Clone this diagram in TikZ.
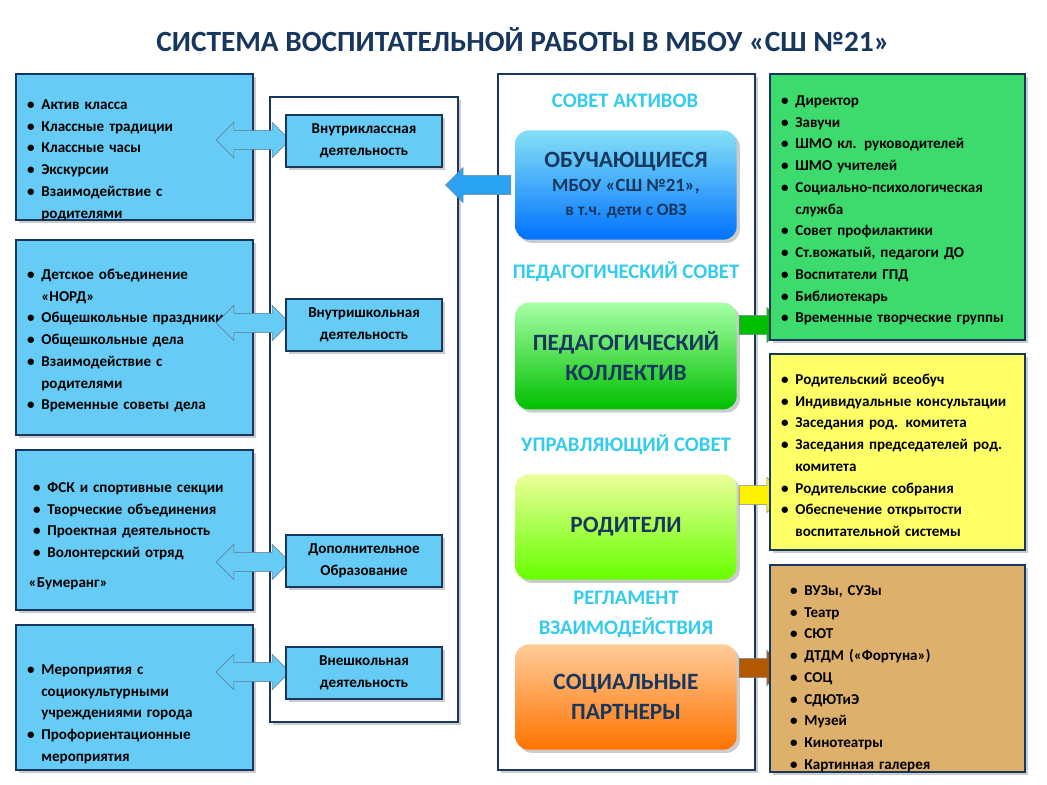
\documentclass[tikz,border=0pt]{standalone}
\usepackage{fontspec}
\setmainfont{Carlito}
\usepackage{enumitem}
\usetikzlibrary{shadows,shapes.arrows}
\definecolor{dblue}{HTML}{17375E}
\definecolor{lblue}{HTML}{66CCF5}
\definecolor{gbox}{HTML}{3DDB6E}
\definecolor{ybox}{HTML}{FFFF66}
\definecolor{tbox}{HTML}{DDB06C}
\definecolor{cyanT}{HTML}{33CCEE}
\newcommand{\blist}[1]{\begin{itemize}[leftmargin=11pt,label=\textbullet,itemsep=0pt,topsep=0pt,parsep=0pt,partopsep=0pt]#1\end{itemize}}
\begin{document}
\begin{tikzpicture}[x=0.75pt,y=-0.75pt,
 every node/.style={font=\bfseries\fontsize{11.3}{16.3}\selectfont},
 lbox/.style={draw=dblue,line width=1.2pt,fill=lblue,drop shadow={opacity=0.4}},
 sbox/.style={draw=dblue,line width=1.2pt,fill=lblue,drop shadow={opacity=0.4},align=center},
 frame/.style={draw=dblue,line width=1.5pt,fill=white,drop shadow={opacity=0.4}},
 rbox/.style={rounded corners=10pt,draw=none,drop shadow={opacity=0.4},align=center,font=\bfseries\fontsize{17.5}{22}\selectfont},
 dar/.style={double arrow,double arrow head extend=6pt,fill=lblue,draw=dblue!70,minimum height=55pt,inner sep=7pt},
 rar/.style={single arrow,single arrow head extend=6pt,draw=dblue!60,inner sep=7pt},
 arc/.style={text=cyanT,font=\bfseries\fontsize{15.5}{16}\selectfont}]
\useasboundingbox (0,0) rectangle (1047,785);
\node[text=dblue,font=\bfseries\fontsize{22}{26}\selectfont] (title) at (523,40) {СИСТЕМА ВОСПИТАТЕЛЬНОЙ РАБОТЫ В МБОУ «СШ №21»};
% frames
\draw[frame] (270,97) rectangle (458,722);
\draw[frame] (498,74) rectangle (755,770);
% left boxes
\draw[lbox] (16,74) rectangle (253,220);
\node[anchor=north west,text width=150pt] (l1) at (22,83) {\blist{\item Актив класса \item Классные традиции \item Классные часы \item Экскурсии \item Взаимодействие с родителями}};
\draw[lbox] (16,240) rectangle (253,435);
\node[anchor=north west,text width=150pt] (l2) at (22,253) {\blist{\item Детское объединение «НОРД» \item Общешкольные праздники \item Общешкольные дела \item Взаимодействие с родителями \item Временные советы дела}};
\draw[lbox] (16,450) rectangle (253,610);
\node[anchor=north west,text width=150pt] (l3) at (28,466) {\blist{\item ФСК и спортивные секции \item Творческие объединения \item Проектная деятельность \item Волонтерский отряд}};
\node[anchor=north west] (l3b) at (24,573) {«Бумеранг»};
\draw[lbox] (16,625) rectangle (253,770);
\node[anchor=north west,text width=150pt] (l4) at (22,648) {\blist{\item Мероприятия с социокультурными учреждениями города \item Профориентационные мероприятия}};
% double arrows
\foreach \y in {140,323,562,672} \node[dar] at (253,\y) {};
% small boxes
\node[sbox,minimum width=117pt,minimum height=39pt] (s1) at (364,141) {Внутриклассная\\деятельность};
\node[sbox,minimum width=117pt,minimum height=39pt] (s2) at (364,325) {Внутришкольная\\деятельность};
\node[sbox,minimum width=117pt,minimum height=39pt] (s3) at (364,561) {Дополнительное\\Образование};
\node[sbox,minimum width=117pt,minimum height=39pt] (s4) at (364,673) {Внешкольная\\деятельность};
% arrows
\node[rar,fill=cyanT!80!blue,shape border rotate=180,minimum height=49pt] (a0) at (483,185) {};
\node[rar,fill=green!75!black,minimum height=34pt] (a1) at (757,325) {};
\node[rar,fill=yellow,minimum height=34pt] (a2) at (757,495) {};
\node[rar,fill=orange!70!black,minimum height=34pt] (a3) at (757,668) {};
% center boxes
\node[rbox,top color=cyanT!60,bottom color=blue!55!cyan,text=dblue,minimum width=166pt,minimum height=82pt] (c1) at (626,185) {ОБУЧАЮЩИЕСЯ\\[-4pt]{\fontsize{14}{17}\selectfont МБОУ «СШ №21»,}\\[-4pt]{\fontsize{13}{16}\selectfont в т.ч. дети с ОВЗ}};
\node[rbox,top color=green!35!white,bottom color=green!75!black,text=dblue,minimum width=166pt,minimum height=80pt] (c2) at (626,356) {ПЕДАГОГИЧЕСКИЙ\\КОЛЛЕКТИВ};
\node[rbox,top color=green!20!yellow!40!white,bottom color=green!60!yellow,text=dblue,minimum width=166pt,minimum height=79pt] (c3) at (626,527) {РОДИТЕЛИ};
\node[rbox,top color=orange!40!white,bottom color=orange!90!red,text=dblue,minimum width=166pt,minimum height=79pt] (c4) at (626,697) {СОЦИАЛЬНЫЕ\\ПАРТНЕРЫ};
\node[arc] (t1) at (625,101) {СОВЕТ АКТИВОВ};
\node[arc] (t2) at (626,272) {ПЕДАГОГИЧЕСКИЙ СОВЕТ};
\node[arc] (t3) at (626,445) {УПРАВЛЯЮЩИЙ СОВЕТ};
\node[arc] (t4) at (626,598) {РЕГЛАМЕНТ};
\node[arc] (t5) at (626,628) {ВЗАИМОДЕЙСТВИЯ};
% right boxes
\draw[lbox,fill=gbox] (770,74) rectangle (1025,340);
\node[anchor=north west,text width=180pt] (r1) at (776,79) {\blist{\item Директор \item Завучи \item ШМО кл. руководителей \item ШМО учителей \item Социально-психологическая служба \item Совет профилактики \item Ст.вожатый, педагоги ДО \item Воспитатели ГПД \item Библиотекарь \item Временные творческие группы}};
\draw[lbox,fill=ybox] (770,354) rectangle (1025,550);
\node[anchor=north west,text width=180pt] (r2) at (776,358) {\blist{\item Родительский всеобуч \item Индивидуальные консультации \item Заседания род. комитета \item Заседания председателей род. комитета \item Родительские собрания \item Обеспечение открытости воспитательной системы}};
\draw[lbox,fill=tbox] (770,565) rectangle (1025,772);
\node[anchor=north west,text width=170pt] (r3) at (785,569) {\blist{\item ВУЗы, СУЗы \item Театр \item СЮТ \item ДТДМ («Фортуна») \item СОЦ \item СДЮТиЭ \item Музей \item Кинотеатры \item Картинная галерея}};
\end{tikzpicture}
\end{document}
